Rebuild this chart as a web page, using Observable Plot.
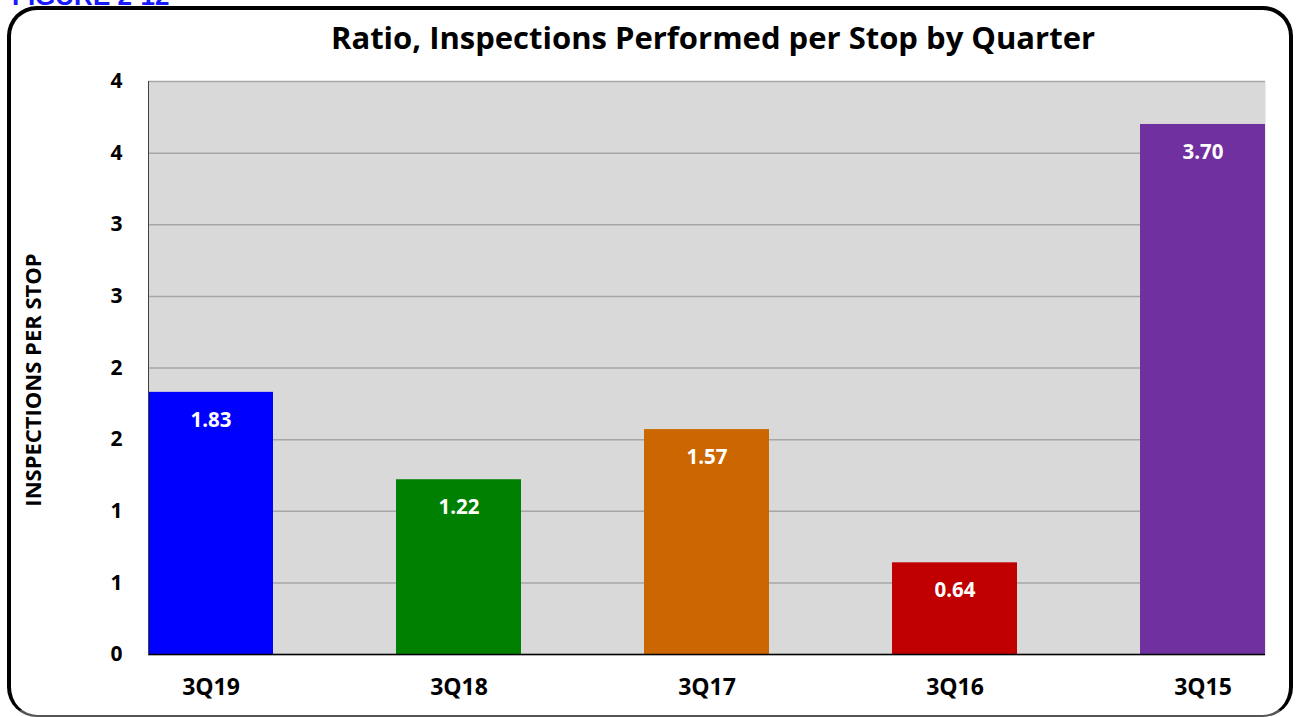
<!DOCTYPE html>
<html>
<head>
<meta charset="utf-8">
<script src="https://cdn.jsdelivr.net/npm/d3@7"></script>
<script src="https://cdn.jsdelivr.net/npm/@observablehq/plot@0.6"></script>
<style>
  html, body { margin: 0; padding: 0; background: #fff; overflow: hidden; }
  #wrap { position: relative; width: 1297px; height: 717px; font-family: "Open Sans", sans-serif; }
  #frame { position: absolute; left: 7px; top: 6px; height: 711px; border: 4px solid #000; border-bottom: 2px solid #555; border-radius: 30px; box-sizing: border-box; width: 1286px; }
  #fig { position: absolute; left: 12px; top: -19px; color: #1a1aff; font: 700 26px "Liberation Sans", Arial, sans-serif; line-height: 30px; }
  #title { position: absolute; left: 0; top: 16px; width: 1426px; text-align: center; font-weight: 700; font-size: 31px; color: #000; }
  #chart { position: absolute; left: 0; top: 0; }
</style>
</head>
<body>
<div id="wrap">
  <div id="frame"></div>
  <div id="fig">FIGURE 2-12</div>
  <div id="chart"></div>
  <div id="title">Ratio, Inspections Performed per Stop by Quarter</div>
</div>
<script>
const quarters = ["3Q19", "3Q18", "3Q17", "3Q16", "3Q15"];
const ratios = [1.83, 1.22, 1.57, 0.64, 3.70];
const barColors = ["#0000FF", "#008000", "#CC6600", "#C00000", "#7030A0"];
const yTicks = [0, 0.5, 1, 1.5, 2, 2.5, 3, 3.5, 4];
const yTickLabels = ["0", "1", "1", "2", "2", "3", "3", "4", "4"];
const yTitle = "INSPECTIONS PER STOP";

const data = quarters.map((q, i) => ({quarter: q, ratio: ratios[i], color: barColors[i], label: ratios[i].toFixed(2)}));

const chart = Plot.plot({
  width: 1297,
  height: 717,
  marginLeft: 148,
  marginRight: 32,
  marginTop: 81,
  marginBottom: 63,
  style: {fontFamily: "'Open Sans', sans-serif", background: "transparent", overflow: "visible"},
  x: {domain: quarters, paddingInner: 0.496, paddingOuter: 0},
  y: {domain: [0, 4]},
  marks: [
    Plot.frame({fill: "#D9D9D9", stroke: null}),
    Plot.gridY(yTicks, {stroke: "#A6A6A6", strokeOpacity: 1, strokeWidth: 1.5}),
    Plot.barY(data, {x: "quarter", y: "ratio", fill: "color"}),
    Plot.text(data, {x: "quarter", y: "ratio", text: "label", dy: 28, fill: "white", fontWeight: 700, fontSize: 20.5}),
    Plot.ruleY([0], {stroke: "#000", strokeWidth: 1.5}),
    Plot.frame({anchor: "left", stroke: "#404040", strokeWidth: 1}),
    Plot.axisY({ticks: yTicks, tickFormat: (d) => yTickLabels[yTicks.indexOf(d)], tickSize: 0, tickPadding: 26, fontSize: 21, fontWeight: 700, label: null, fill: "#000"}),
    Plot.axisX({tickSize: 0, tickPadding: 24, fontSize: 23, fontWeight: 700, label: null, fill: "#000"}),
    Plot.text([yTitle], {frameAnchor: "left", dx: -115, dy: 12, rotate: -90, textAnchor: "middle", fontSize: 22, fontWeight: 700, fill: "#000"})
  ]
});
document.getElementById("chart").appendChild(chart);
</script>
</body>
</html>
